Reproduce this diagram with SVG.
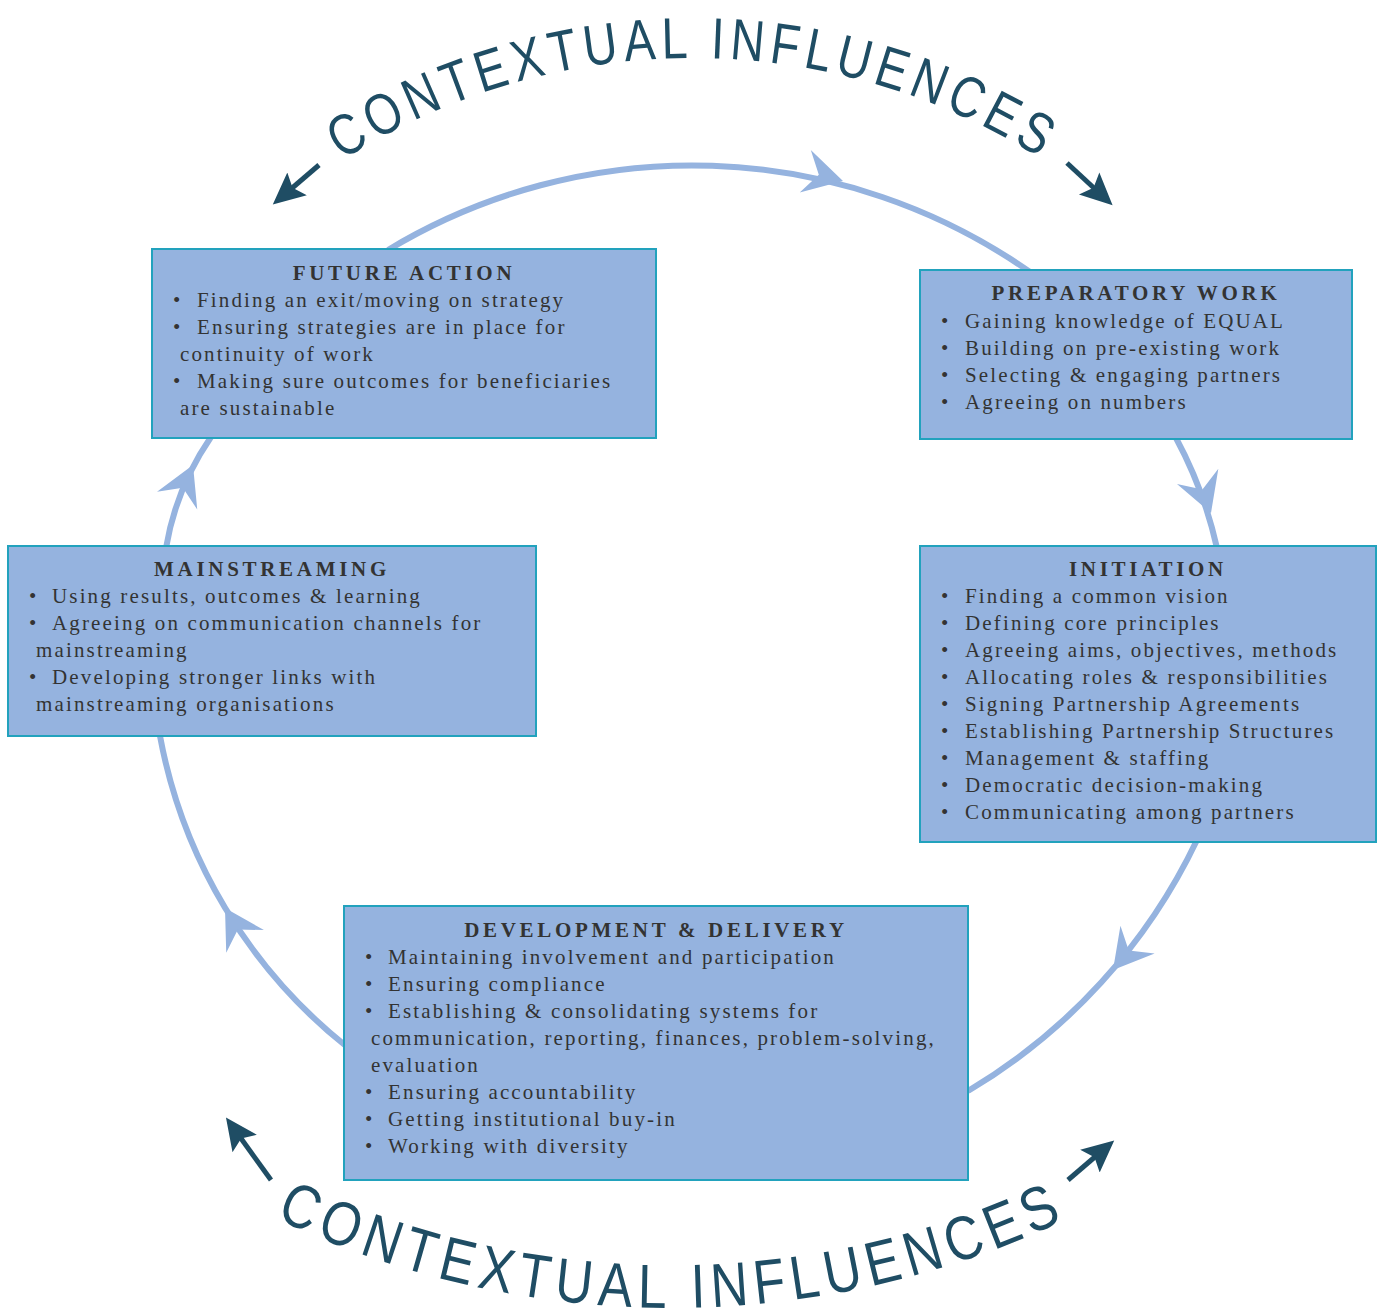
<svg xmlns="http://www.w3.org/2000/svg" xmlns:xlink="http://www.w3.org/1999/xlink" width="1379" height="1311" viewBox="0 0 1379 1311">
  <style>
    .box { fill: #95b3df; stroke: #22a2bd; stroke-width: 2; }
    .title { font-family: "Liberation Serif", "Times New Roman", serif; font-weight: bold; font-size: 21px; letter-spacing: 3.7px; fill: #333333; text-anchor: middle; }
    .item { font-family: "Liberation Serif", "Times New Roman", serif; font-size: 21px; letter-spacing: 2.15px; fill: #333333; }
    .flow { fill: none; stroke: #95b3df; stroke-width: 6; }
    .flowhead { fill: #95b3df; }
    .ctx { fill: none; stroke: #1f4d64; stroke-width: 5; marker-end: url(#ctxHead); }
    .arch { font-family: "Liberation Sans", Arial, sans-serif; fill: #1f4d64; }
  </style>
  <defs>
    <!-- notched head used along the cycle, tip at the origin pointing +x -->
    <path id="cycleHead" d="M0 0 L-39 -22 L-25 0 L-39 22 Z"/>
    <marker id="ctxHead" markerUnits="userSpaceOnUse" markerWidth="34" markerHeight="34" refX="8" refY="17" orient="auto">
      <path d="M0 2 L32 17 L0 32 L6 17 Z" fill="#1f4d64"/>
    </marker>
    <path id="arcTop" d="M129.2 383.5 A651 651 0 0 1 1256.8 383.5"/>
    <path id="arcBottom" d="M-33.5 979 A921 921 0 0 0 1377.5 979"/>
  </defs>

  <rect width="1379" height="1311" fill="#ffffff"/>

  <!-- curved captions -->
  <text class="arch" font-size="58" letter-spacing="7"><textPath xlink:href="#arcTop" href="#arcTop" startOffset="50%" text-anchor="middle" textLength="741" lengthAdjust="spacingAndGlyphs">CONTEXTUAL INFLUENCES</textPath></text>
  <text class="arch" font-size="62" letter-spacing="7.5"><textPath xlink:href="#arcBottom" href="#arcBottom" startOffset="50%" text-anchor="middle" textLength="820" lengthAdjust="spacingAndGlyphs">CONTEXTUAL INFLUENCES</textPath></text>

  <!-- outward influence arrows -->
  <g id="influence-arrows">
    <line class="ctx" x1="319" y1="165" x2="291" y2="189"/>
    <line class="ctx" x1="1067" y1="163" x2="1095" y2="189"/>
    <line class="ctx" x1="271" y1="1180" x2="240" y2="1137"/>
    <line class="ctx" x1="1068" y1="1180" x2="1096" y2="1156"/>
  </g>

  <!-- cycle connectors -->
  <g id="connectors">
    <path class="flow" d="M388 250 A589 589 0 0 1 1030 272"/>
    <use href="#cycleHead" class="flowhead" transform="translate(843 181) rotate(14.6)"/>

    <path class="flow" d="M1176 438 Q1204 490 1217 548"/>
    <use href="#cycleHead" class="flowhead" transform="translate(1211 513) rotate(70)"/>

    <path class="flow" d="M1197 840 A584 584 0 0 1 968 1091"/>
    <use href="#cycleHead" class="flowhead" transform="translate(1113 970) rotate(129)"/>

    <path class="flow" d="M346 1046 A517 517 0 0 1 160 736"/>
    <use href="#cycleHead" class="flowhead" transform="translate(225 908) rotate(-121)"/>

    <path class="flow" d="M166 548 Q176 488 211 437"/>
    <use href="#cycleHead" class="flowhead" transform="translate(193 465) rotate(-66)"/>
  </g>

  <g id="future-action">
    <rect class="box" x="152" y="249" width="504" height="189"/>
    <text class="title" x="404" y="280">FUTURE ACTION</text>
    <text class="item" y="307"><tspan x="173">•</tspan><tspan x="197">Finding an exit/moving on strategy</tspan></text>
    <text class="item" y="334"><tspan x="173">•</tspan><tspan x="197">Ensuring strategies are in place for</tspan></text>
    <text class="item" x="180" y="361">continuity of work</text>
    <text class="item" y="388"><tspan x="173">•</tspan><tspan x="197">Making sure outcomes for beneficiaries</tspan></text>
    <text class="item" x="180" y="415">are sustainable</text>
  </g>

  <g id="preparatory-work">
    <rect class="box" x="920" y="270" width="432" height="169"/>
    <text class="title" x="1136" y="300">PREPARATORY WORK</text>
    <text class="item" y="328"><tspan x="941">•</tspan><tspan x="965">Gaining knowledge of EQUAL</tspan></text>
    <text class="item" y="355"><tspan x="941">•</tspan><tspan x="965">Building on pre-existing work</tspan></text>
    <text class="item" y="382"><tspan x="941">•</tspan><tspan x="965">Selecting &amp; engaging partners</tspan></text>
    <text class="item" y="409"><tspan x="941">•</tspan><tspan x="965">Agreeing on numbers</tspan></text>
  </g>

  <g id="mainstreaming">
    <rect class="box" x="8" y="546" width="528" height="190"/>
    <text class="title" x="272" y="576">MAINSTREAMING</text>
    <text class="item" y="603"><tspan x="29">•</tspan><tspan x="52">Using results, outcomes &amp; learning</tspan></text>
    <text class="item" y="630"><tspan x="29">•</tspan><tspan x="52">Agreeing on communication channels for</tspan></text>
    <text class="item" x="36" y="657">mainstreaming</text>
    <text class="item" y="684"><tspan x="29">•</tspan><tspan x="52">Developing stronger links with</tspan></text>
    <text class="item" x="36" y="711">mainstreaming organisations</text>
  </g>

  <g id="initiation">
    <rect class="box" x="920" y="546" width="456" height="296"/>
    <text class="title" x="1148" y="576">INITIATION</text>
    <text class="item" y="603"><tspan x="941">•</tspan><tspan x="965">Finding a common vision</tspan></text>
    <text class="item" y="630"><tspan x="941">•</tspan><tspan x="965">Defining core principles</tspan></text>
    <text class="item" y="657"><tspan x="941">•</tspan><tspan x="965">Agreeing aims, objectives, methods</tspan></text>
    <text class="item" y="684"><tspan x="941">•</tspan><tspan x="965">Allocating roles &amp; responsibilities</tspan></text>
    <text class="item" y="711"><tspan x="941">•</tspan><tspan x="965">Signing Partnership Agreements</tspan></text>
    <text class="item" y="738"><tspan x="941">•</tspan><tspan x="965">Establishing Partnership Structures</tspan></text>
    <text class="item" y="765"><tspan x="941">•</tspan><tspan x="965">Management &amp; staffing</tspan></text>
    <text class="item" y="792"><tspan x="941">•</tspan><tspan x="965">Democratic decision-making</tspan></text>
    <text class="item" y="819"><tspan x="941">•</tspan><tspan x="965">Communicating among partners</tspan></text>
  </g>

  <g id="development-delivery">
    <rect class="box" x="344" y="906" width="624" height="274"/>
    <text class="title" x="656" y="937">DEVELOPMENT &amp; DELIVERY</text>
    <text class="item" y="964"><tspan x="365">•</tspan><tspan x="388">Maintaining involvement and participation</tspan></text>
    <text class="item" y="991"><tspan x="365">•</tspan><tspan x="388">Ensuring compliance</tspan></text>
    <text class="item" y="1018"><tspan x="365">•</tspan><tspan x="388">Establishing &amp; consolidating systems for</tspan></text>
    <text class="item" x="371" y="1045">communication, reporting, finances, problem-solving,</text>
    <text class="item" x="371" y="1072">evaluation</text>
    <text class="item" y="1099"><tspan x="365">•</tspan><tspan x="388">Ensuring accountability</tspan></text>
    <text class="item" y="1126"><tspan x="365">•</tspan><tspan x="388">Getting institutional buy-in</tspan></text>
    <text class="item" y="1153"><tspan x="365">•</tspan><tspan x="388">Working with diversity</tspan></text>
  </g>
</svg>
